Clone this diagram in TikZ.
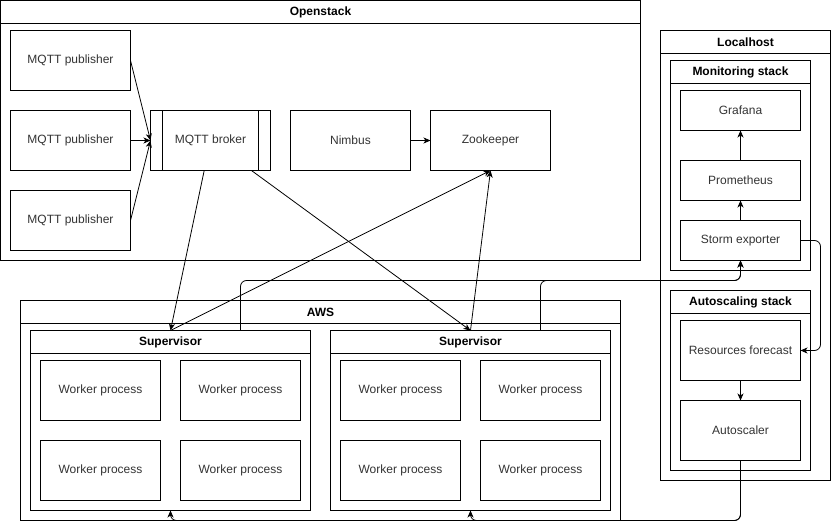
\documentclass[tikz,border=0pt]{standalone}
\usepackage{fontspec}
\setmainfont{Liberation Sans}
\usetikzlibrary{arrows.meta,calc}
\definecolor{txtgray}{HTML}{333333}
\begin{document}
\begin{tikzpicture}[x=1pt,y=-1pt,line width=1pt,
  txt/.style={font=\fontsize{12}{14}\selectfont,text=txtgray},
  box/.style={draw,inner sep=0pt,outer sep=0pt,minimum width=120pt,minimum height=60pt,txt},
  sbox/.style={box,minimum height=40pt},
  cont/.style={draw,inner sep=0pt,outer sep=0pt,anchor=north west},
  ttl/.style={font=\fontsize{12}{14}\selectfont\bfseries},
  arr/.style={-{Stealth[length=7pt,width=6pt,inset=2pt]},line width=0.8pt},
  rarr/.style={arr,rounded corners=6pt}]
\useasboundingbox (-0.5,-0.5) rectangle (830.5,528.5);

% ---------- Openstack ----------
\node[cont,minimum width=640pt,minimum height=260pt] (os) at (0,0) {};
\draw (os.north west) ++(0,23) -- ++(640,0);
\node[ttl] (ost) at ($(os.north)+(0,11.5)$) {Openstack};
\node[box] (p1) at (70,60) {MQTT publisher};
\node[box] (p2) at (70,140) {MQTT publisher};
\node[box] (p3) at (70,220) {MQTT publisher};
\node[box] (broker) at (210,140) {MQTT broker};
\draw ($(broker.north west)+(12,0)$) -- ($(broker.south west)+(12,0)$);
\draw ($(broker.north east)+(-12,0)$) -- ($(broker.south east)+(-12,0)$);
\node[box] (nimbus) at (350,140) {Nimbus};
\node[box] (zk) at (490,140) {Zookeeper};

% ---------- AWS ----------
\node[cont,minimum width=600pt,minimum height=220pt] (aws) at (20,300) {};
\draw (aws.north west) ++(0,23) -- ++(600,0);
\node[ttl] (awst) at ($(aws.north)+(0,11.5)$) {AWS};

\node[cont,minimum width=280pt,minimum height=180pt] (sup1) at (30,330) {};
\draw (sup1.north west) ++(0,23) -- ++(280,0);
\node[ttl] (sup1t) at ($(sup1.north)+(0,11.5)$) {Supervisor};
\node[box] (w11) at (100,390) {Worker process};
\node[box] (w12) at (240,390) {Worker process};
\node[box] (w13) at (100,470) {Worker process};
\node[box] (w14) at (240,470) {Worker process};

\node[cont,minimum width=280pt,minimum height=180pt] (sup2) at (330,330) {};
\draw (sup2.north west) ++(0,23) -- ++(280,0);
\node[ttl] (sup2t) at ($(sup2.north)+(0,11.5)$) {Supervisor};
\node[box] (w21) at (400,390) {Worker process};
\node[box] (w22) at (540,390) {Worker process};
\node[box] (w23) at (400,470) {Worker process};
\node[box] (w24) at (540,470) {Worker process};

% ---------- Localhost ----------
\node[cont,minimum width=170pt,minimum height=450pt] (lh) at (660,30) {};
\draw (lh.north west) ++(0,23) -- ++(170,0);
\node[ttl] (lht) at ($(lh.north)+(0,11.5)$) {Localhost};

\node[cont,minimum width=140pt,minimum height=210pt] (mon) at (670,60) {};
\draw (mon.north west) ++(0,23) -- ++(140,0);
\node[ttl] (mont) at ($(mon.north)+(0,11.5)$) {Monitoring stack};
\node[sbox] (graf) at (740,110) {Grafana};
\node[sbox] (prom) at (740,180) {Prometheus};
\node[sbox] (storm) at (740,240) {Storm exporter};

\node[cont,minimum width=140pt,minimum height=180pt] (asc) at (670,290) {};
\draw (asc.north west) ++(0,23) -- ++(140,0);
\node[ttl] (asct) at ($(asc.north)+(0,11.5)$) {Autoscaling stack};
\node[box] (fc) at (740,350) {Resources forecast};
\node[box] (as) at (740,430) {Autoscaler};

% ---------- connectors ----------
\coordinate (s1a) at ($(sup1.north)+(70,0)$);
\coordinate (s2a) at ($(sup2.north)+(70,0)$);

\draw[arr] (p1.east) -- (broker.west);
\draw[arr] (p2.east) -- (broker.west);
\draw[arr] (p3.east) -- (broker.west);
\draw[arr] (nimbus) -- (zk);
\draw[arr] (broker) -- (sup1.north);
\draw[arr] (broker) -- (sup2.north);
\draw[arr] (sup1.north) -- (zk.south);
\draw[arr] (sup2.north) -- (zk.south);

\draw[rarr] (s1a) -- ++(0,-50) -| (storm.south);
\draw[rarr] (s2a) -- ++(0,-50) -| (storm.south);

\draw[arr] (storm) -- (prom);
\draw[arr] (prom) -- (graf);
\draw[arr] (fc) -- (as);
\draw[rarr] (storm.east) -- ++(20,0) |- (fc.east);

\draw[rarr] (as.south) |- ($(sup1.south)+(0,10)$) -- (sup1.south);
\draw[rarr] (as.south) |- ($(sup2.south)+(0,10)$) -- (sup2.south);
\end{tikzpicture}
\end{document}
